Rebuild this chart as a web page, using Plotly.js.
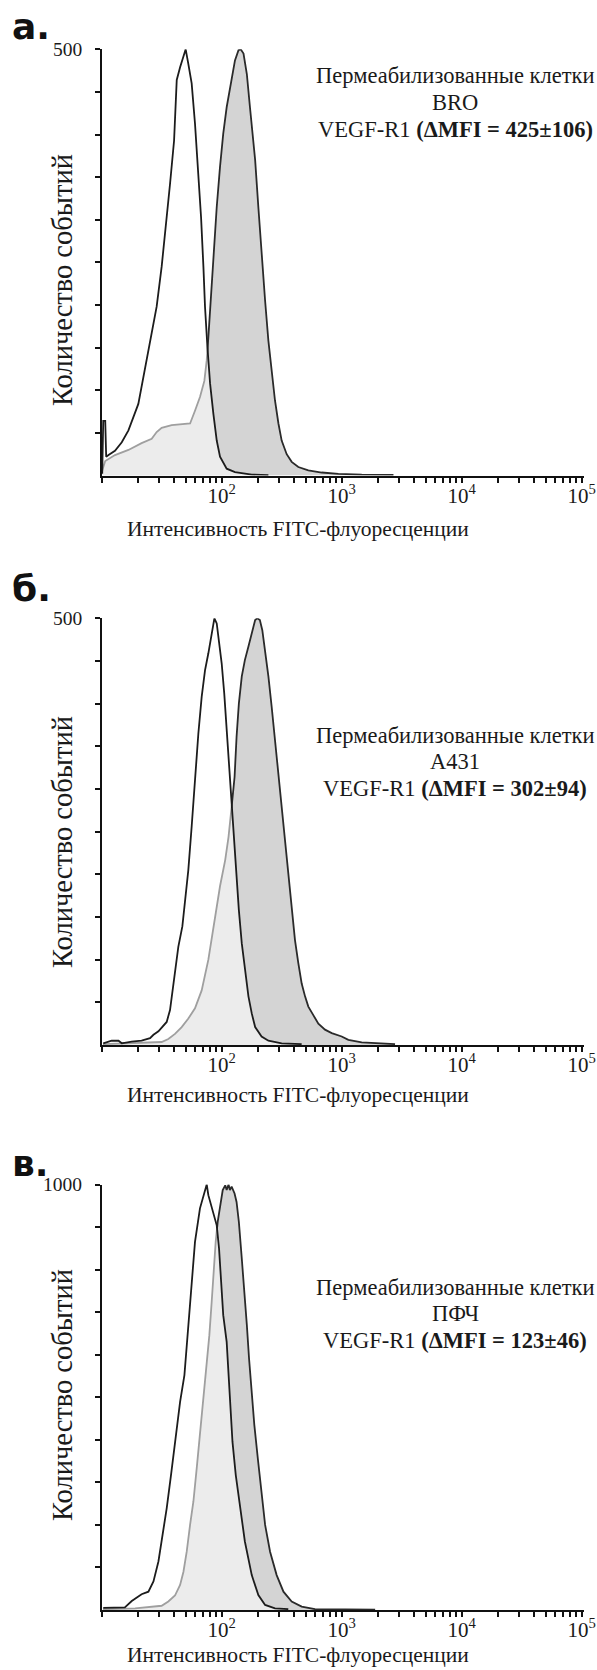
<!DOCTYPE html>
<html>
<head>
<meta charset="utf-8">
<script src="https://cdn.plot.ly/plotly-3.0.1.min.js"></script>
<style>html,body{margin:0;padding:0;background:#fff;}#chart{width:597px;height:1670px;}</style>
</head>
<body>
<div id="chart"></div>
<script>
// ---------- DATA (FITC intensity, event counts) ----------
// Panel а: BRO
const ctrlX_a  = [10.1,10.3,10.7,10.9,11.4,12.9,14.7,16.7,20.2,23.7,25.3,28.7,31.6,34.8,37.1,40.1,42.2,45.0,47.0,50.1,52.7,56.2,59.9,63.9,67.3,70.4,72.6,76.0,80.0,85.3,90.9,96.8,110,129,178,245];
const ctrlY_a  = [2,64,64,22,24,29,39,53,84,135,158,198,245,299,342,393,464,479,487,500,483,460,413,354,303,245,198,151,108,72,41,22,8,4,1,0.5];
const stainX_a = [10.1,10.7,12.9,16.7,21.5,26.1,28.7,31.6,38.3,46.4,54.5,59.9,65.9,71.7,75.0,77.4,81.5,85.3,90.9,96.8,103,110,121,129,138,144,152,162,172,190,202,215,230,245,261,278,297,316,348,383,435,527,681,938,1468,2700];
const stainY_a = [6,17,24,30,38,43,51,56,59,60,61,76,92,111,135,162,213,256,315,362,401,432,464,487,499,500,495,471,432,370,315,260,205,158,119,88,61,41,25,16,10,6,3.5,2,1,0.8];

// Panel б: A431
const ctrlX_b  = [10.3,12.1,13.8,14.7,17.8,21.5,25.3,27.0,29.7,31.6,34.8,37.1,38.8,40.8,43.5,47.0,49.4,52.7,56.2,59.9,63.9,68.1,72.6,77.4,82.5,86.9,90.9,95.0,100,105,110,116,121,128,133,139,147,156,167,178,190,215,245,316,464];
const ctrlY_b  = [2,5,5,2,4,5,8,12,16,20,27,41,61,88,115,139,166,205,256,314,365,408,439,459,482,500,494,475,447,412,369,322,275,232,197,158,119,88,57,37,21,10,5,2,1];
const stainX_b = [10.3,19.0,31.6,35.9,40.8,46.4,52.7,59.9,68.1,77.4,88.0,96.8,107,114,121,128,133,139,147,156,167,178,190,198,208,218,230,245,261,278,297,316,337,359,383,408,435,464,495,527,580,639,726,826,1000,1136,1468,2783];
const stainY_b = [1,2,3.5,7,13,21,31,43,64,100,150,186,217,244,279,314,361,400,432,451,467,482,498,500,498,486,463,432,396,357,322,283,240,197,158,123,96,72,57,45,35,25,18,14,10,6,3,1];

// Panel в: ПФЧ
const ctrlX_c  = [10.3,15.6,17.8,21.5,24.5,27.0,29.7,31.6,34.8,37.8,40.8,45.0,48.9,52.1,54.5,57.0,59.9,65.9,70.4,72.6,75.0,77.4,81.5,86.9,90.9,95.0,98.7,103,110,114,117,123,131,142,156,178,202,230,278,359];
const ctrlY_c  = [5,6,21,37,43,67,114,161,239,317,395,489,552,646,709,787,865,944,975,991,1000,975,951,928,904,850,764,693,630,552,474,395,317,239,161,82,35,12,4,2];
const stainX_c = [10.3,19.0,31.6,35.9,40.8,45.0,48.0,51.1,54.5,58.1,61.9,65.9,70.4,75.0,78.9,82.5,85.8,89.1,92.6,96.8,102,107,110,114,117,121,128,133,139,147,155,162,169,178,187,200,213,230,253,287,327,383,464,599,1900];
const stainY_c = [2,4,10,20,34,59,90,137,200,255,333,411,489,568,646,724,803,865,912,951,987,998,987,1000,987,995,979,959,912,826,748,670,591,513,435,356,278,200,137,82,43,20,8,2,0.8];

// Axis tick labels and texts
const decadeVals   = [100,1000,10000,100000];
const decadeLabels = ['10<sup>2</sup>','10<sup>3</sup>','10<sup>4</sup>','10<sup>5</sup>'];
const panelLetters = ['а.','б.','в.'];
const cellLines    = ['BRO','A431','ПФЧ'];
const mfiTexts     = ['(ΔMFI = 425±106)','(ΔMFI = 302±94)','(ΔMFI = 123±46)'];
const yMax         = [500,500,1000];
const yStep        = [50,50,100];
const xTitle = 'Интенсивность FITC-флуоресценции';
const yTitle = 'Количество событий';
const topText = 'Пермеабилизованные клетки';

// ---------- LAYOUT ----------
const W=597, H=1670;
const fx = p => p/W, fy = p => 1 - p/H;
// pixel geometry of each panel: [top (ymax), bottom (0)]
const geo = [[49.3,475.5],[618.3,1045],[1184.5,1610]];
const yTitleY = [280,842,1395];
const xTitleY = [529,1095,1655];
const letterY = [27,588,1163];
const textY   = [76,735,1287];
const lineGap = 26.5;
const plotL = 101.7, plotR = 584;
const decadePx = 120;
const xRange = [1, 1 + (plotR-plotL)/decadePx];

// minor + major tick positions on the log axis
const xTickVals = [], xTickText = [];
for (let d=10; d<=100000; d*=10){
  for (let m=1; m<=9; m++){
    const v = d*m; if (v>100000) break;
    xTickVals.push(v);
    const k = decadeVals.indexOf(v);
    xTickText.push(k>=0 ? decadeLabels[k] : '');
  }
}

const serif = 'Liberation Serif, Times New Roman, serif';
const ink = '#1a1a1a';
const datasets = [
  [stainX_a,stainY_a,ctrlX_a,ctrlY_a],
  [stainX_b,stainY_b,ctrlX_b,ctrlY_b],
  [stainX_c,stainY_c,ctrlX_c,ctrlY_c]
];

const traces = [];
const layout = {
  width: W, height: H,
  margin: {l:0,r:0,t:0,b:0},
  paper_bgcolor: '#ffffff', plot_bgcolor: 'rgba(0,0,0,0)',
  showlegend: false,
  annotations: [],
  font: {family: serif, color: ink}
};

datasets.forEach((ds, i) => {
  const n = i===0 ? '' : String(i+1);
  const xa = 'x'+n, ya = 'y'+n;
  // stained sample (filled grey)
  traces.push({x: ds[0], y: ds[1], xaxis: xa, yaxis: ya, type: 'scatter', mode: 'lines',
    line: {color: '#2a2a2a', width: 1.8}, fill: 'tozeroy', fillcolor: '#d4d4d4', hoverinfo: 'skip'});
  // control (outline, semi-transparent white veil)
  traces.push({x: ds[2], y: ds[3], xaxis: xa, yaxis: ya, type: 'scatter', mode: 'lines',
    line: {color: '#1c1c1c', width: 1.8}, fill: 'tozeroy', fillcolor: 'rgba(255,255,255,0.55)', hoverinfo: 'skip'});

  const yTicks = [];
  for (let v=yStep[i]; v<=yMax[i]; v+=yStep[i]) yTicks.push(v);

  layout['xaxis'+n] = {
    type: 'log', range: xRange, domain: [fx(plotL), fx(plotR)], anchor: ya,
    showgrid: false, zeroline: false, showline: true, linecolor: '#111', linewidth: 2,
    ticks: 'outside', ticklen: 5, tickwidth: 2, tickcolor: '#111',
    tickmode: 'array', tickvals: xTickVals, ticktext: xTickText,
    tickfont: {family: serif, size: 21, color: ink}, ticklabelstandoff: -5,
    fixedrange: true
  };
  layout['yaxis'+n] = {
    range: [0, yMax[i]], domain: [fy(geo[i][1]), fy(geo[i][0])], anchor: xa,
    showgrid: false, zeroline: false, showline: true, linecolor: '#111', linewidth: 2,
    ticks: 'outside', ticklen: 5, tickwidth: 2, tickcolor: '#111',
    tickmode: 'array', tickvals: yTicks, showticklabels: false,
    fixedrange: true
  };

  layout.annotations.push(
    // top y tick label
    {xref:'paper', yref:'paper', x: fx(84), y: fy(geo[i][0]), text: String(yMax[i]),
     showarrow:false, xanchor:'right', yanchor:'middle', font:{family: serif, size: 19.5, color: ink}},
    {xref:'paper', yref:'paper', x: fx(62), y: fy(yTitleY[i]), text: yTitle, textangle: -90,
     showarrow:false, xanchor:'center', yanchor:'middle', font:{family: serif, size: 28.5, color: ink}},
    {xref:'paper', yref:'paper', x: fx(298), y: fy(xTitleY[i]), text: xTitle,
     showarrow:false, xanchor:'center', yanchor:'middle', font:{family: serif, size: 21.5, color: ink}},
    {xref:'paper', yref:'paper', x: fx(10), y: fy(letterY[i]), text: '<b>'+panelLetters[i]+'</b>',
     showarrow:false, xanchor:'left', yanchor:'middle', font:{family: 'DejaVu Sans, sans-serif', size: 36, color:'#111'}}
  );
  const lines = [topText, cellLines[i], 'VEGF-R1 <b>' + mfiTexts[i] + '</b>'];
  lines.forEach((t, k) => {
    layout.annotations.push({xref:'paper', yref:'paper', x: fx(455), y: fy(textY[i] + k*lineGap),
      xanchor:'center', yanchor:'middle', text: t, showarrow:false,
      font:{family: serif, size: 22.5, color: ink}});
  });
});

Plotly.newPlot('chart', traces, layout, {displayModeBar: false, staticPlot: true});
</script>
</body>
</html>
